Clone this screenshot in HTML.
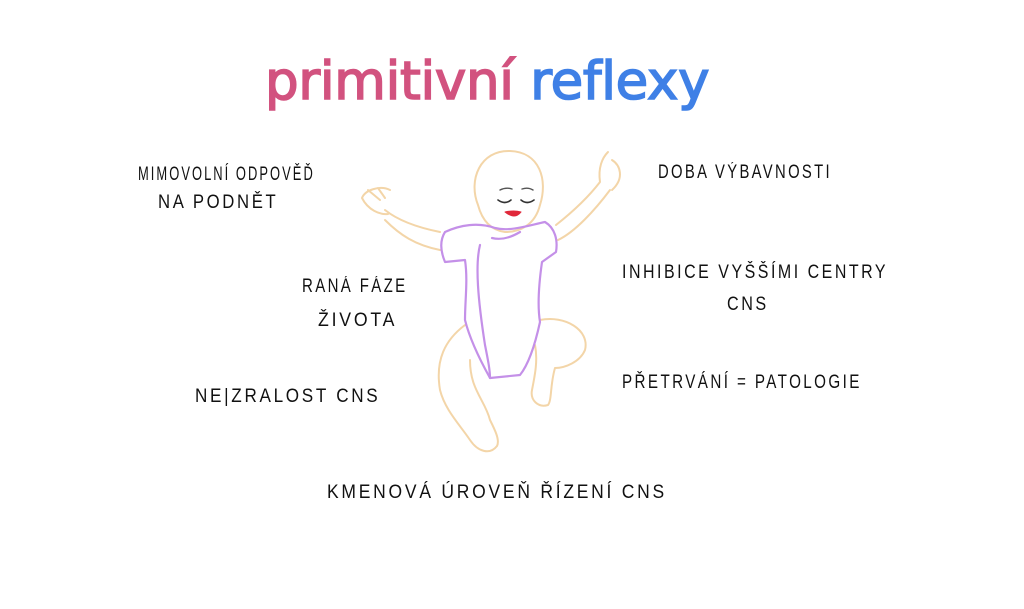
<!DOCTYPE html>
<html><head><meta charset="utf-8"><style>
body{margin:0;width:1024px;height:609px;background:#fff;position:relative;overflow:hidden;font-family:"Liberation Sans",sans-serif}
.t{position:absolute;font-size:19px;color:#111;letter-spacing:3px;font-weight:normal;line-height:30px;white-space:nowrap;transform-origin:0 50%}
</style></head><body>
<div style="position:absolute;left:265px;top:51px;font-size:53px;letter-spacing:-0.3px;white-space:nowrap;font-family:'DejaVu Sans',sans-serif;-webkit-text-stroke:1.6px currentColor;color:#d2527f"><span style="color:#d2527f">primitivní</span> <span style="color:#3f80e6;-webkit-text-stroke:1.6px #3f80e6">reflexy</span></div>
<div class="t" style="left:138px;top:160px;transform:scaleX(0.68)">MIMOVOLNÍ ODPOVĚĎ</div>
<div class="t" style="left:158px;top:188px;transform:scaleX(0.88)">NA PODNĚT</div>
<div class="t" style="left:302px;top:272px;transform:scaleX(0.79)">RANÁ FÁZE</div>
<div class="t" style="left:318px;top:306px;transform:scaleX(0.93)">ŽIVOTA</div>
<div class="t" style="left:195px;top:382px;transform:scaleX(0.9)">NE|ZRALOST CNS</div>
<div class="t" style="left:658px;top:158px;transform:scaleX(0.78)">DOBA VÝBAVNOSTI</div>
<div class="t" style="left:622px;top:258px;transform:scaleX(0.84)">INHIBICE VYŠŠÍMI CENTRY</div>
<div class="t" style="left:727px;top:290px;transform:scaleX(0.85)">CNS</div>
<div class="t" style="left:622px;top:368px;transform:scaleX(0.8)">PŘETRVÁNÍ = PATOLOGIE</div>
<div class="t" style="left:327px;top:478px;transform:scaleX(0.92)">KMENOVÁ ÚROVEŇ ŘÍZENÍ CNS</div>
<svg width="1024" height="609" style="position:absolute;left:0;top:0" fill="none" stroke-linecap="round" stroke-linejoin="round">
<g stroke="#f3d5a8" stroke-width="2">
<path d="M478 205 C468 180 480 150 510 151 C540 152 548 180 540 205 C535 225 520 232 505 232 C490 230 482 220 478 205Z"/>
<path d="M440 232 C420 228 400 222 385 210 M390 190 C380 185 365 190 362 198 C368 210 380 215 388 214 M385 198 L378 188 M380 200 L368 190"/>
<path d="M440 250 C415 245 400 235 385 220"/>
<path d="M556 225 C575 210 590 195 600 182 M610 190 C595 210 575 232 558 240 M600 182 C598 168 602 158 608 152 M612 160 C620 165 625 178 612 190"/>
<path d="M465 325 C445 340 435 360 440 390 C445 410 460 425 470 440 C478 452 490 455 497 446 C500 440 495 430 490 420 C485 400 470 390 470 360"/>
<path d="M540 320 C565 315 590 330 585 350 C580 362 565 368 555 368 C550 385 552 400 548 405 C538 408 530 400 532 390 C535 375 538 360 535 345"/>
</g>
<g stroke="#c490e8" stroke-width="2.2">
<path d="M445 232 C460 225 478 222 495 228 C510 232 530 225 545 222 C555 228 558 240 556 252 L542 262 C538 290 538 310 540 322 C535 345 528 365 520 375 L490 378 C480 360 470 340 465 320 C465 300 468 280 465 260 L445 262 C440 250 440 240 445 232Z"/>
<path d="M480 245 C475 265 478 300 485 345 C488 360 490 370 490 378"/>
<path d="M520 232 C510 238 500 240 492 238"/>
</g>
<path d="M498 200 Q505 205 511 200 M521 200 Q527 205 534 200" stroke="#333" stroke-width="1.6"/>
<path d="M500 190 Q506 187 512 189 M522 189 Q528 187 533 190" stroke="#555" stroke-width="1.4"/>
<path d="M505 212 Q514 210 521 212 Q515 220 505 212Z" fill="#e0283a" stroke="#e0283a"/>
</svg>
</body></html>
